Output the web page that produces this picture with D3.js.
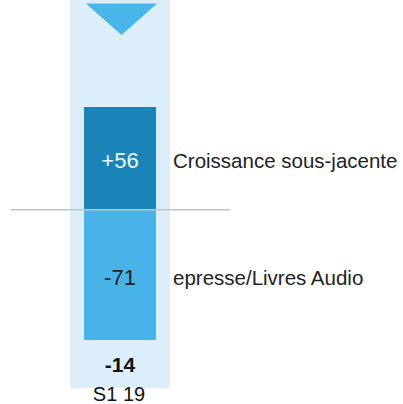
<!DOCTYPE html>
<html><head><meta charset="utf-8">
<script src="https://cdn.jsdelivr.net/npm/d3@7"></script>
<style>body{margin:0;background:#fff}svg{display:block}</style>
</head><body>
<script>
const categories = ["Croissance sous-jacente", "epresse/Livres Audio"];
const values = [56, -71];
const totalLabel = "-14";
const periodLabel = "S1 19";
const barColors = ["#1a84b8", "#47b3e8"];
const labelColors = ["#f4fafd", "#222222"];

const W = 403, H = 404;
const svg = d3.select("body").append("svg").attr("width", W).attr("height", H);
const font = "'Liberation Sans', Arial, sans-serif";

const y = d3.scaleLinear().domain([-71, 56]).range([340, 107]);
const x = d3.scaleBand().domain([periodLabel]).range([70, 170]).paddingInner(0).paddingOuter(0);
const bx = x(periodLabel) + 14, bw = x.bandwidth() - 28;

// background column
svg.append("rect").attr("x", x(periodLabel)).attr("y", 0).attr("width", x.bandwidth()).attr("height", 388).attr("fill", "#dbeefa");

// triangle
const cx = x(periodLabel) + x.bandwidth() / 2 + 1.5;
svg.append("path").attr("d", `M${cx-35.5},3.5 L${cx+35.5},3.5 L${cx},35 Z`).attr("fill", "#4ab5e8");

// bars
svg.selectAll("rect.bar").data(values).enter().append("rect")
  .attr("class", "bar")
  .attr("x", bx).attr("width", bw)
  .attr("y", d => Math.min(y(d), y(0)))
  .attr("height", d => Math.abs(y(d) - y(0)))
  .attr("fill", (d, i) => barColors[i]);

// zero line
svg.append("line").attr("x1", 11).attr("x2", 230).attr("y1", y(0)).attr("y2", y(0))
  .attr("stroke", "#c4c4c4").attr("stroke-width", 1.5);

// value labels
svg.selectAll("text.val").data(values).enter().append("text")
  .attr("class", "val")
  .attr("x", bx + bw / 2)
  .attr("y", d => (y(d) + y(0)) / 2 + 10)
  .attr("text-anchor", "middle")
  .attr("font-family", font).attr("font-size", 22)
  .attr("fill", (d, i) => labelColors[i])
  .text(d => (d > 0 ? "+" : "") + d);

// category labels
svg.selectAll("text.cat").data(categories).enter().append("text")
  .attr("class", "cat")
  .attr("x", 173)
  .attr("y", (d, i) => (y(values[i]) + y(0)) / 2 + 10)
  .attr("font-family", font).attr("font-size", 20.5)
  .attr("fill", "#222")
  .text(d => d);

// total
svg.append("text").attr("x", bx + bw / 2).attr("y", 371.5).attr("text-anchor", "middle")
  .attr("font-family", font).attr("font-size", 21).attr("font-weight", "bold").attr("fill", "#111")
  .text(totalLabel);

// period
svg.append("text").attr("x", bx + bw / 2 - 1).attr("y", 401).attr("text-anchor", "middle")
  .attr("font-family", font).attr("font-size", 20).attr("fill", "#111")
  .text(periodLabel);
</script>
</body></html>
